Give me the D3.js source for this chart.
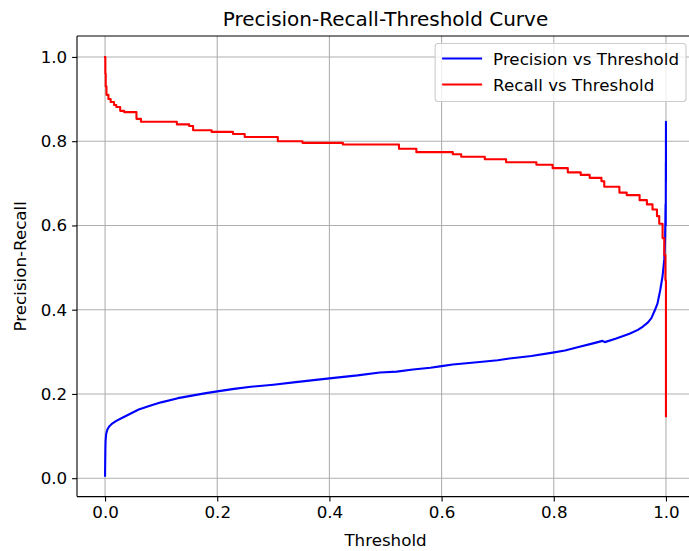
<!DOCTYPE html>
<html>
<head>
<meta charset="utf-8">
<script src="https://cdn.jsdelivr.net/npm/d3@7"></script>
<style>
  html, body { margin: 0; padding: 0; background: #ffffff; }
  svg { display: block; font-family: "DejaVu Sans", sans-serif; }
</style>
</head>
<body>
<svg id="chart" width="689" height="551"></svg>
<script>
// Precision as a function of the decision threshold
const precisionThresholds = [
  0.000, 0.0003, 0.0006, 0.001, 0.002, 0.004, 0.007, 0.012, 0.020, 0.030,
  0.045, 0.060, 0.080, 0.100, 0.130, 0.155, 0.180, 0.200, 0.230, 0.260,
  0.300, 0.340, 0.400, 0.450, 0.490, 0.520, 0.549, 0.580, 0.600, 0.620,
  0.668, 0.700, 0.721, 0.760, 0.798, 0.820, 0.846, 0.870, 0.887, 0.891,
  0.910, 0.935, 0.950, 0.959, 0.968, 0.974, 0.980, 0.985, 0.990, 0.994,
  0.997, 0.9985, 0.9993, 0.9996, 0.9998, 0.9999, 1.000, 1.000
];
const precisionValues = [
  0.006, 0.040, 0.070, 0.090, 0.105, 0.115, 0.122, 0.129, 0.136, 0.143,
  0.153, 0.163, 0.172, 0.180, 0.190, 0.196, 0.202, 0.206, 0.212, 0.217,
  0.222, 0.228, 0.237, 0.244, 0.251, 0.253, 0.258, 0.262, 0.266, 0.270,
  0.276, 0.280, 0.284, 0.290, 0.298, 0.303, 0.312, 0.320, 0.326, 0.323,
  0.331, 0.343, 0.352, 0.360, 0.370, 0.380, 0.398, 0.415, 0.448, 0.480,
  0.520, 0.570, 0.650, 0.600, 0.750, 0.700, 0.846, 0.710
];

// Recall as a function of the decision threshold (step-wise)
const recallThresholds = [
  0.000, 0.0005, 0.0012, 0.0025, 0.006, 0.010, 0.016, 0.020, 0.027, 0.034,
  0.056, 0.064, 0.128, 0.150, 0.157, 0.190, 0.228, 0.249, 0.308, 0.352,
  0.424, 0.524, 0.555, 0.620, 0.635, 0.677, 0.715, 0.769, 0.798, 0.825,
  0.848, 0.864, 0.885, 0.890, 0.917, 0.930, 0.953, 0.966, 0.976, 0.984,
  0.988, 0.994, 0.997, 0.999, 1.000
];
const recallValues = [
  1.000, 0.960, 0.930, 0.910, 0.900, 0.893, 0.886, 0.881, 0.872, 0.869,
  0.853, 0.846, 0.840, 0.836, 0.826, 0.822, 0.817, 0.810, 0.800, 0.796,
  0.792, 0.782, 0.774, 0.769, 0.763, 0.757, 0.750, 0.744, 0.736, 0.726,
  0.720, 0.713, 0.705, 0.692, 0.678, 0.672, 0.660, 0.650, 0.638, 0.622,
  0.604, 0.570, 0.530, 0.470, 0.147
];

const xTicks = [0.0, 0.2, 0.4, 0.6, 0.8, 1.0];
const yTicks = [0.0, 0.2, 0.4, 0.6, 0.8, 1.0];
const seriesNames = ["Precision vs Threshold", "Recall vs Threshold"];
const seriesColors = ["#0000ff", "#ff0000"];

const precision = precisionThresholds.map((t, i) => ({ t, v: precisionValues[i] }));
const recall = recallThresholds.map((t, i) => ({ t, v: recallValues[i] }));

const svg = d3.select("#chart");
const plot = { left: 77, right: 694, top: 36, bottom: 496.6 };

// Axis limits padded by 5% of the data span on each side
function padded(lo, hi) {
  const m = (hi - lo) * 0.05;
  return [lo - m, hi + m];
}
const allT = precisionThresholds.concat(recallThresholds);
const allV = precisionValues.concat(recallValues);
const x = d3.scaleLinear().domain(padded(d3.min(allT), d3.max(allT))).range([plot.left, plot.right]);
const y = d3.scaleLinear().domain(padded(d3.min(allV), d3.max(allV))).range([plot.bottom, plot.top]);

const fs = 16.7;
const tickLen = 4.9;

// Grid
const grid = svg.append("g");
grid.selectAll("line.gx").data(xTicks).enter().append("line")
  .attr("x1", d => x(d)).attr("x2", d => x(d))
  .attr("y1", plot.top).attr("y2", plot.bottom)
  .attr("stroke", "#b0b0b0").attr("stroke-width", 1.1);
grid.selectAll("line.gy").data(yTicks).enter().append("line")
  .attr("x1", plot.left).attr("x2", plot.right)
  .attr("y1", d => y(d)).attr("y2", d => y(d))
  .attr("stroke", "#b0b0b0").attr("stroke-width", 1.1);

// Curves
svg.append("path").datum(precision)
  .attr("d", d3.line().x(d => x(d.t)).y(d => y(d.v)).curve(d3.curveLinear))
  .attr("fill", "none").attr("stroke", seriesColors[0])
  .attr("stroke-width", 2.1).attr("stroke-linejoin", "round").attr("stroke-linecap", "square");
svg.append("path").datum(recall)
  .attr("d", d3.line().x(d => x(d.t)).y(d => y(d.v)).curve(d3.curveStepAfter))
  .attr("fill", "none").attr("stroke", seriesColors[1])
  .attr("stroke-width", 2.1).attr("stroke-linejoin", "round").attr("stroke-linecap", "square");

// Axes
const xAxis = d3.axisBottom(x).tickValues(xTicks).tickFormat(d3.format(".1f"))
  .tickSize(tickLen).tickPadding(4.9);
const yAxis = d3.axisLeft(y).tickValues(yTicks).tickFormat(d3.format(".1f"))
  .tickSize(tickLen).tickPadding(4.9);

const gx = svg.append("g").attr("transform", `translate(0,${plot.bottom})`).call(xAxis);
const gy = svg.append("g").attr("transform", `translate(${plot.left},0)`).call(yAxis);
[gx, gy].forEach(g => {
  g.select(".domain").remove();
  g.selectAll(".tick line").attr("stroke", "#000").attr("stroke-width", 1.1);
  g.selectAll(".tick text").attr("fill", "#000").style("font-size", fs + "px")
    .style("font-family", "DejaVu Sans");
});

// Spines
const spine = (x1, y1, x2, y2) => svg.append("line")
  .attr("x1", x1).attr("y1", y1).attr("x2", x2).attr("y2", y2)
  .attr("stroke", "#000").attr("stroke-width", 1.1);
spine(plot.left, plot.top, plot.left, plot.bottom);
spine(plot.left, plot.bottom, plot.right, plot.bottom);
spine(plot.left, plot.top, plot.right, plot.top);
spine(plot.right, plot.top, plot.right, plot.bottom);

// Title and axis labels
svg.append("text").attr("x", (plot.left + plot.right) / 2).attr("y", 26)
  .attr("text-anchor", "middle").style("font-size", "20px").text("Precision-Recall-Threshold Curve");
svg.append("text").attr("x", (plot.left + plot.right) / 2).attr("y", 546)
  .attr("text-anchor", "middle").style("font-size", fs + "px").text("Threshold");
svg.append("text").attr("transform", `translate(26,${(plot.top + plot.bottom) / 2}) rotate(-90)`)
  .attr("text-anchor", "middle").style("font-size", fs + "px").text("Precision-Recall");

// Legend (upper right)
const legend = svg.append("g");
const pad = 7, handleLen = 40, handleGap = 11, rowH = 26;
const legendBox = legend.append("rect");
const labels = legend.selectAll("text").data(seriesNames).enter().append("text")
  .style("font-size", fs + "px").text(d => d);
const textW = d3.max(labels.nodes(), n => n.getComputedTextLength());
const boxW = pad * 2 + handleLen + handleGap + textW;
const boxH = 58;
const boxRight = 686;
const boxLeft = boxRight - boxW;
const boxTop = 43.5;
legendBox.attr("x", boxLeft).attr("y", boxTop).attr("width", boxW).attr("height", boxH)
  .attr("rx", 3).attr("fill", "#ffffff").attr("fill-opacity", 0.8)
  .attr("stroke", "#cccccc").attr("stroke-width", 1.1);
seriesNames.forEach((name, i) => {
  const cy = boxTop + 15 + i * rowH;
  legend.append("line").attr("x1", boxLeft + pad).attr("x2", boxLeft + pad + handleLen)
    .attr("y1", cy).attr("y2", cy).attr("stroke", seriesColors[i]).attr("stroke-width", 2.1);
});
labels.attr("x", boxLeft + pad + handleLen + handleGap)
  .attr("y", (d, i) => boxTop + 15 + i * rowH + 6);
</script>
</body>
</html>
